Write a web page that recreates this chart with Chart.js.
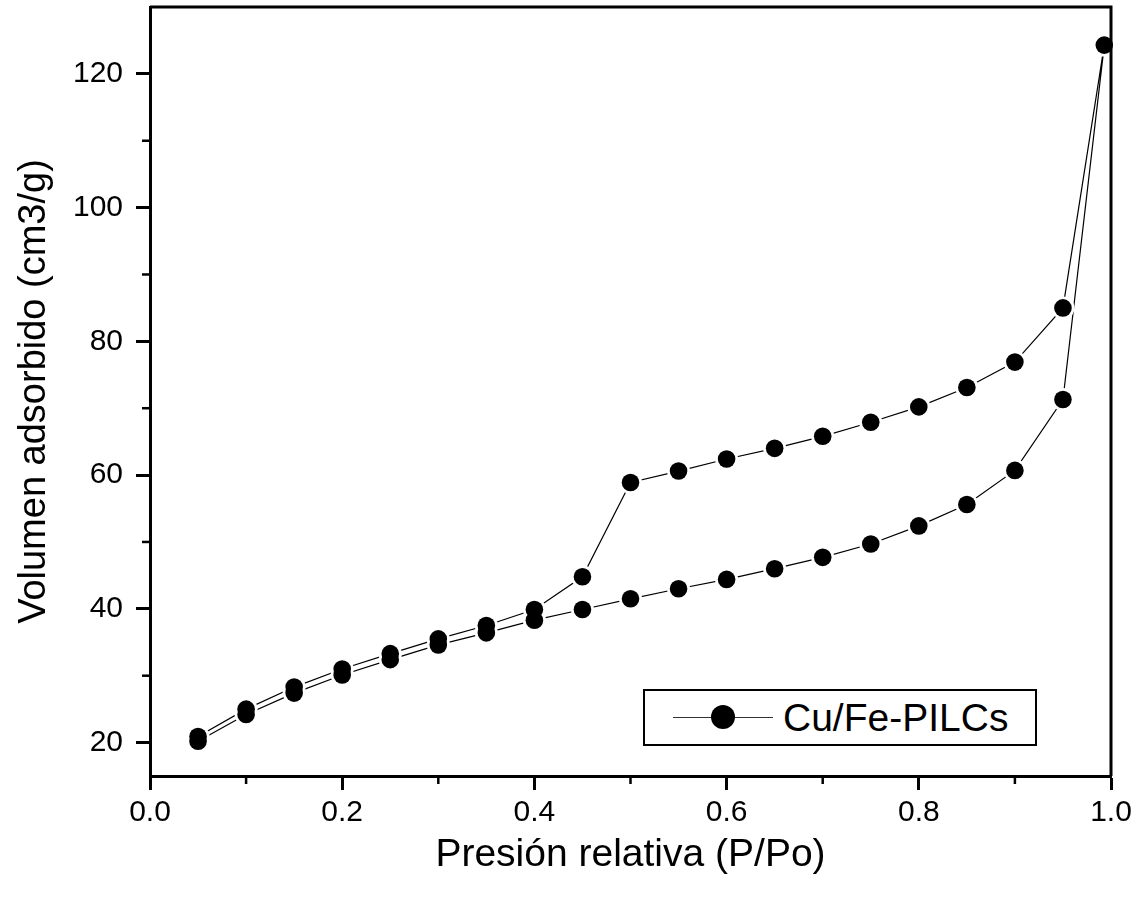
<!DOCTYPE html>
<html>
<head>
<meta charset="utf-8">
<script src="https://cdn.jsdelivr.net/npm/chart.js"></script>
<style>
  body { margin: 0; background: #fff; overflow: hidden; }
  #wrap { position: relative; width: 1137px; height: 898px; }
  #legend {
    position: absolute; left: 643px; top: 689px; width: 394px; height: 57px;
    box-sizing: border-box; border: 2px solid #000; background: #fff;
    font-family: "Liberation Sans", Arial, sans-serif;
  }
  #legend .ln { position: absolute; left: 28px; top: 26px; width: 100px; height: 1px; background: #333; }
  #legend .dot { position: absolute; left: 66px; top: 14px; width: 24px; height: 24px; border-radius: 50%; background: #000; }
  #legend .txt { position: absolute; left: 138px; top: 4px; font-size: 39px; line-height: 45px; color: #000; }
</style>
</head>
<body>
<div id="wrap">
  <canvas id="chart" width="1137" height="898"></canvas>
  <div id="legend"></div>
</div>
<script>
// data
const seriesName = 'Cu/Fe-PILCs';
const adsX = [0.05, 0.10, 0.15, 0.20, 0.25, 0.30, 0.35, 0.40, 0.45, 0.50, 0.55, 0.60, 0.65, 0.70, 0.75, 0.80, 0.85, 0.90, 0.95, 0.993];
const adsY = [20.2, 24.2, 27.4, 30.1, 32.4, 34.6, 36.4, 38.3, 39.9, 41.5, 43.0, 44.4, 46.0, 47.7, 49.7, 52.4, 55.6, 60.7, 71.3, 124.3];
const desX = [0.95, 0.90, 0.85, 0.80, 0.75, 0.70, 0.65, 0.60, 0.55, 0.50, 0.45, 0.40, 0.35, 0.30, 0.25, 0.20, 0.15, 0.10, 0.05];
const desY = [85.0, 76.9, 73.1, 70.2, 67.9, 65.8, 64.0, 62.4, 60.6, 58.9, 44.8, 39.9, 37.5, 35.5, 33.3, 31.0, 28.3, 25.0, 20.9];

const xMajor = [0, 0.2, 0.4, 0.6, 0.8, 1.0];
const xMinor = [0.1, 0.3, 0.5, 0.7, 0.9];
const yMajor = [20, 40, 60, 80, 100, 120];
const yMinor = [30, 50, 70, 90, 110];

const xTitle = 'Presión relativa (P/Po)';
const yTitle = 'Volumen adsorbido (cm3/g)';

const points = adsX.map((x, i) => ({ x: x, y: adsY[i] }))
  .concat(desX.map((x, i) => ({ x: x, y: desY[i] })));

const font = '"Liberation Sans", Arial, sans-serif';

// minor ticks + top/right frame
const framePlugin = {
  id: 'frame',
  afterDraw(chart) {
    const c = chart.ctx;
    const a = chart.chartArea;
    const xs = chart.scales.x, ys = chart.scales.y;
    c.save();
    c.strokeStyle = '#000';
    c.lineWidth = 3;
    c.beginPath();
    c.moveTo(a.left, a.top);
    c.lineTo(a.right, a.top);
    c.lineTo(a.right, a.bottom);
    c.stroke();
    c.lineWidth = 2.5;
    xMinor.forEach(v => {
      const px = xs.getPixelForValue(v);
      c.beginPath(); c.moveTo(px, a.bottom); c.lineTo(px, a.bottom + 8); c.stroke();
    });
    yMinor.forEach(v => {
      const py = ys.getPixelForValue(v);
      c.beginPath(); c.moveTo(a.left, py); c.lineTo(a.left - 8, py); c.stroke();
    });
    c.restore();
  }
};

const ctx = document.getElementById('chart').getContext('2d');
const chart = new Chart(ctx, {
  type: 'scatter',
  data: {
    datasets: [
      {
        label: seriesName,
        data: points,
        showLine: false,
        pointRadius: 8.8,
        pointBackgroundColor: '#000',
        pointBorderWidth: 0,
        clip: false
      },
      {
        label: 'line',
        data: points,
        showLine: true,
        borderColor: '#000',
        borderWidth: 1.2,
        tension: 0,
        pointRadius: 11.5,
        pointBackgroundColor: '#fff',
        pointBorderWidth: 0,
        clip: false
      }
    ]
  },
  options: {
    responsive: false,
    animation: false,
    layout: { autoPadding: false, padding: { top: 7, right: 26, bottom: 0, left: 0 } },
    plugins: {
      legend: { display: false },
      tooltip: { enabled: false }
    },
    scales: {
      x: {
        type: 'linear',
        min: 0,
        max: 1.0,
        afterBuildTicks: s => { s.ticks = xMajor.map(v => ({ value: v })); },
        afterFit: s => { s.height = 122; s.paddingLeft = 0; s.paddingRight = 0; },
        border: { color: '#000', width: 3 },
        grid: { drawOnChartArea: false, drawTicks: true, tickLength: 14, tickWidth: 3, tickColor: '#000' },
        ticks: {
          color: '#000',
          padding: 5,
          maxRotation: 0,
          font: { family: font, size: 30 },
          callback: v => v.toFixed(1)
        },
        title: {
          display: true,
          text: xTitle,
          color: '#000',
          font: { family: font, size: 39 },
          padding: { top: 0, bottom: 19 }
        }
      },
      y: {
        type: 'linear',
        min: 15,
        max: 130,
        afterBuildTicks: s => { s.ticks = yMajor.map(v => ({ value: v })); },
        afterFit: s => { s.width = 150; s.paddingTop = 0; s.paddingBottom = 0; },
        border: { color: '#000', width: 3 },
        grid: { drawOnChartArea: false, drawTicks: true, tickLength: 14, tickWidth: 3, tickColor: '#000' },
        ticks: {
          color: '#000',
          padding: 13,
          font: { family: font, size: 30 },
          callback: v => String(v)
        },
        title: {
          display: true,
          text: yTitle,
          color: '#000',
          font: { family: font, size: 38 },
          padding: { top: 12, bottom: 0 }
        }
      }
    }
  },
  plugins: [framePlugin]
});

// html legend built from the dataset
const lg = document.getElementById('legend');
lg.innerHTML = '<span class="ln"></span><span class="dot"></span><span class="txt">' +
  chart.data.datasets[0].label + '</span>';
</script>
</body>
</html>
